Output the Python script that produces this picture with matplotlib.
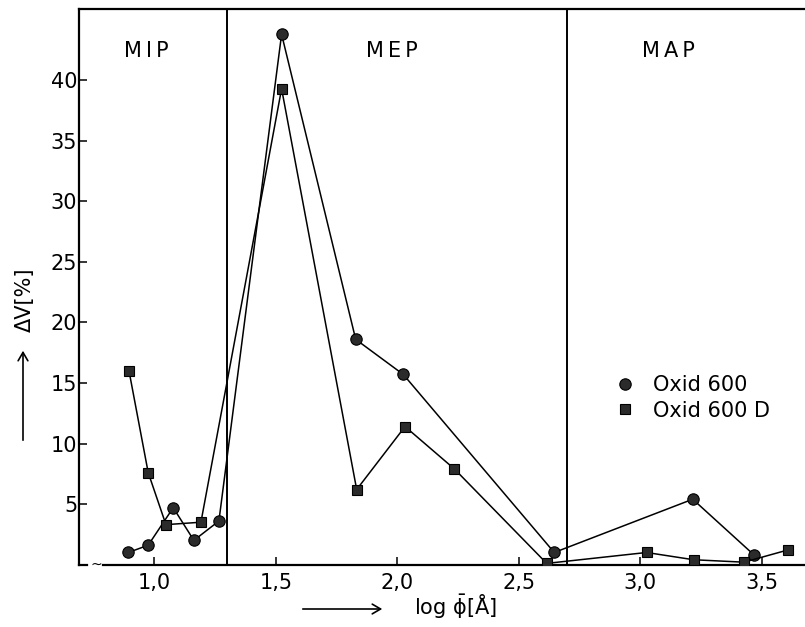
import matplotlib
matplotlib.use("Agg")
import matplotlib.pyplot as plt
from matplotlib.lines import Line2D

# Pore-size distribution change, two oxide samples
log_phi_600 = [0.893, 0.975, 1.078, 1.163, 1.266, 1.524, 1.829, 2.025, 2.646, 3.216, 3.468]
dv_600 = [1.0, 1.6, 4.7, 2.0, 3.6, 43.8, 18.6, 15.7, 1.0, 5.4, 0.8]

log_phi_600d = [0.896, 0.975, 1.048, 1.192, 1.524, 1.833, 2.032, 2.235, 2.615, 3.026, 3.22, 3.427, 3.606]
dv_600d = [16.0, 7.6, 3.3, 3.5, 39.3, 6.2, 11.4, 7.9, 0.1, 1.0, 0.4, 0.2, 1.2]

series_labels = ["Oxid 600", "Oxid 600 D"]
region_bounds = [1.3, 2.7]
region_names = ["M\u2009I\u2009P", "M\u2009E\u2009P", "M\u2009A\u2009P"]
x_ticks = [1.0, 1.5, 2.0, 2.5, 3.0, 3.5]
x_ticklabels = ["1,0", "1,5", "2,0", "2,5", "3,0", "3,5"]
y_ticks = [5, 10, 15, 20, 25, 30, 35, 40]

W, H = 805, 627
fig = plt.figure(figsize=(W / 100, H / 100), dpi=100)
fig.patch.set_facecolor("white")

x0_px, x1_px = 78.7, 805.0
y0_px, y1_px = 564.6, 9.3
ax = fig.add_axes([x0_px / W, (H - y0_px) / H, (x1_px - x0_px) / W, (y0_px - y1_px) / H])
ax.set_xlim(0.689, 3.678)
ax.set_ylim(0, 45.86)

ink = "black"
fill = "#2b2b2b"
ax.plot(log_phi_600, dv_600, color=ink, lw=1.1, marker="o", ms=8.2,
        mfc=fill, mec=ink, mew=0.8, zorder=3)
ax.plot(log_phi_600d, dv_600d, color=ink, lw=1.1, marker="s", ms=7.4,
        mfc=fill, mec=ink, mew=0.8, zorder=3)

for xb in region_bounds:
    ax.axvline(xb, color=ink, lw=1.4, zorder=2)

# Spines: left, top, bottom (bottom broken near the origin)
ax.spines["right"].set_visible(False)
for s in ("left", "top", "bottom"):
    ax.spines[s].set_linewidth(1.6)
ax.spines["bottom"].set_bounds(0.79, 3.678)
ax.add_line(Line2D([0.0, (87.3 - x0_px) / (x1_px - x0_px)], [0, 0],
                   transform=ax.transAxes, color=ink, lw=1.6, clip_on=False))
ax.text(0.7605, 0.0, "~", transform=ax.get_xaxis_transform(), ha="center",
        va="center", fontsize=10, color=ink)

ax.set_xticks(x_ticks)
ax.set_xticklabels(x_ticklabels)
ax.set_yticks(y_ticks)
ax.set_yticklabels([str(v) for v in y_ticks])
ax.tick_params(direction="in", length=6, width=1.1, labelsize=15, colors=ink)
ax.tick_params(axis="y", pad=1)
ax.tick_params(axis="x", pad=6)

# Region names
name_pos = [(146, 51), (392, 51), (668, 51)]
for (px, py), name in zip(name_pos, region_names):
    fig.text(px / W, 1 - py / H, name, ha="center", va="center", fontsize=15, color=ink)

# Axis titles with arrows
fig.text(25 / W, 1 - 300 / H, "\u0394V[%]", rotation=90, ha="center", va="center",
         fontsize=15, color=ink)
fig.add_artist(matplotlib.patches.FancyArrowPatch(
    (23 / W, 1 - 443 / H), (23 / W, 1 - 348 / H), transform=fig.transFigure,
    arrowstyle="->,head_length=6,head_width=3.5", lw=1.2, color=ink))

fig.text(456 / W, 1 - 607 / H, r"log $\bar{\mathrm{\phi}}$[Å]", ha="center", va="center",
         fontsize=15, color=ink)
fig.add_artist(matplotlib.patches.FancyArrowPatch(
    (300 / W, 1 - 609 / H), (385 / W, 1 - 609 / H), transform=fig.transFigure,
    arrowstyle="->,head_length=6,head_width=3.5", lw=1.2, color=ink))

# Legend
handles = [
    Line2D([], [], ls="none", marker="o", ms=8.2, mfc=fill, mec=ink, mew=0.8),
    Line2D([], [], ls="none", marker="s", ms=7.4, mfc=fill, mec=ink, mew=0.8),
]
fig.legend(handles, series_labels, loc="center left",
           bbox_to_anchor=(615 / W, 1 - 398 / H), bbox_transform=fig.transFigure,
           frameon=False, fontsize=15, handlelength=1.0, handletextpad=0.8,
           labelspacing=0.25, borderpad=0, borderaxespad=0)

fig.savefig("out.png", dpi=100, facecolor="white")
